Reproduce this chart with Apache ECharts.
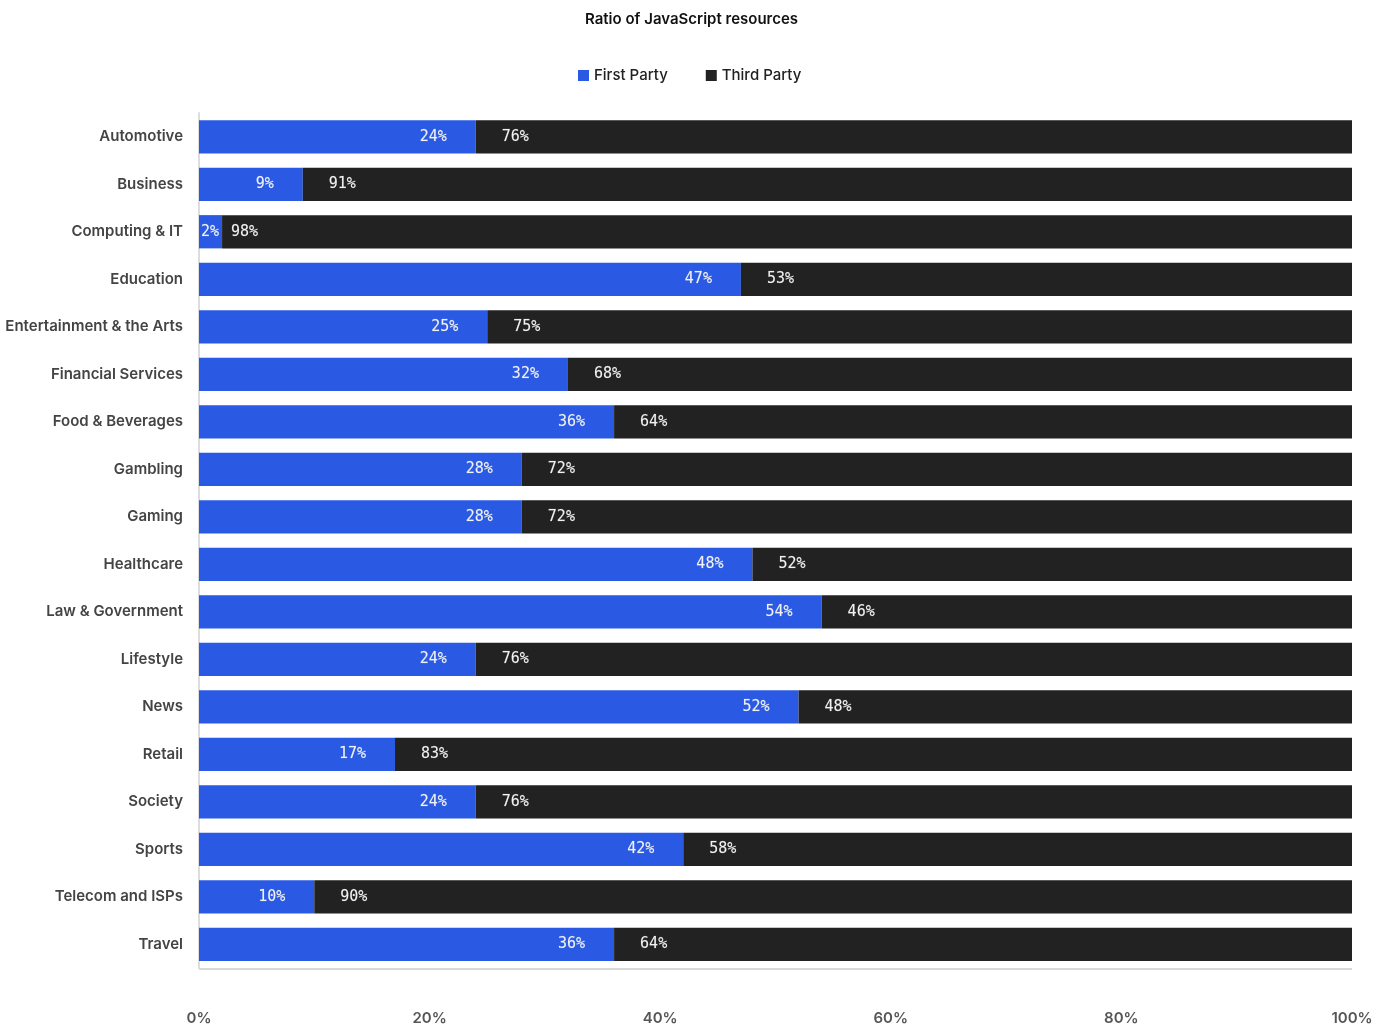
<!DOCTYPE html>
<html>
<head>
<meta charset="utf-8">
<script src="https://cdn.jsdelivr.net/npm/echarts@6/dist/echarts.min.js"></script>
<style>
html,body{margin:0;padding:0;background:#fff;}
#chart{width:1386px;height:1026px;}
</style>
</head>
<body>
<div id="chart"></div>
<script>
const categories = ["Automotive","Business","Computing & IT","Education","Entertainment & the Arts","Financial Services","Food & Beverages","Gambling","Gaming","Healthcare","Law & Government","Lifestyle","News","Retail","Society","Sports","Telecom and ISPs","Travel"];
const firstParty = [24,9,2,47,25,32,36,28,28,48,54,24,52,17,24,42,10,36];
const thirdParty = [76,91,98,53,75,68,64,72,72,52,46,76,48,83,76,58,90,64];
const xTicks = [0,20,40,60,80,100];

const chart = echarts.init(document.getElementById('chart'));
const labelFont = {color:'#f2f2f2', fontFamily:'DejaVu Sans Mono', fontSize:15, fontWeight:'normal',
  textBorderColor:'rgba(255,255,255,0.25)', textBorderWidth:0.4};
const firstData = firstParty.map(function(v){
  if (v < 5) return {value:v, label:{position:'insideLeft', distance:2}};
  return v;
});
const thirdData = thirdParty.map(function(v){
  if (v > 95) return {value:v, label:{distance:9}};
  return v;
});
chart.setOption({
  animation:false,
  backgroundColor:'#ffffff',
  title:{text:'Ratio of JavaScript resources', left:580, top:7,
    textStyle:{fontFamily:'Inter', fontSize:15, fontWeight:600, color:'#111111'}},
  legend:{top:63, left:573, itemWidth:11, itemHeight:11, itemGap:38, icon:'rect',
    textStyle:{fontFamily:'Inter', fontSize:15, fontWeight:500, color:'#222222'},
    data:['First Party','Third Party']},
  grid:{left:199, right:34, top:113, bottom:56, containLabel:false},
  xAxis:{type:'value', min:0, max:100, interval:20,
    axisLine:{show:false}, axisTick:{show:false}, splitLine:{show:false},
    axisLabel:{margin:43, formatter:function(v){return xTicks.indexOf(v)>=0 ? v+'%' : '';},
      fontFamily:'Inter', fontSize:15, fontWeight:600, color:'#555555'}},
  yAxis:{type:'category', data:categories, inverse:true,
    axisLine:{show:true, lineStyle:{color:'#dddddd', width:2}}, axisTick:{show:false},
    axisLabel:{margin:16, fontFamily:'Inter', fontSize:15, fontWeight:600, color:'#444444'}},
  series:[
    {name:'First Party', type:'bar', stack:'t', data:firstData, barWidth:'70%',
      itemStyle:{color:'#2a5ae4'},
      label:{show:true, position:'insideRight', distance:29, formatter:'{c}%', ...labelFont}},
    {name:'Third Party', type:'bar', stack:'t', data:thirdData, barWidth:'70%',
      itemStyle:{color:'#222222'},
      label:{show:true, position:'insideLeft', distance:26, formatter:'{c}%', ...labelFont},
      markLine:{silent:true, symbol:'none', label:{show:false},
        lineStyle:{color:'#d8d8d8', width:2, type:'solid'},
        data:[[{coord:[0, 17], y:969},{coord:[100,17], y:969}]]}}
  ]
});
</script>
</body>
</html>
